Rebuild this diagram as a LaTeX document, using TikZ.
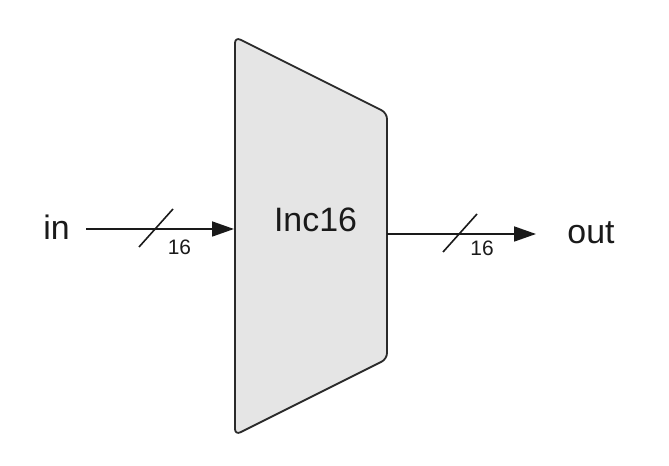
\documentclass[tikz,border=0pt]{standalone}
\usepackage{fontspec}
\setmainfont{Liberation Sans}
\usetikzlibrary{arrows.meta}
\definecolor{linecol}{HTML}{1A1A1A}
\definecolor{boxfill}{HTML}{E5E5E5}
\definecolor{boxline}{HTML}{2A2A2A}
\begin{document}
\begin{tikzpicture}[x=1bp,y=-1bp,
  biglabel/.style={inner sep=0pt,anchor=base,text=linecol,font=\fontsize{34}{40}\selectfont},
  buslabel/.style={inner sep=0pt,anchor=base,text=linecol,font=\fontsize{21}{25}\selectfont},
  wire/.style={draw=linecol,line width=1.8bp,-{Triangle[length=22bp,width=15bp]}},
  slash/.style={draw=linecol,line width=1.6bp},
  block/.style={draw=boxline,fill=boxfill,line width=1.8bp,rounded corners=6bp}]
\useasboundingbox (0,0) rectangle (669,466);
% block
\path[block] (235,37) -- (387,113) -- (387,359) -- (235,435) -- cycle;
\node[biglabel] (inc) at (315.5,232) {Inc16};
% terminals
\node[biglabel] (inlbl) at (56.5,240) {in};
\node[biglabel] (outlbl) at (591,244) {out};
\coordinate (inA) at (86,229);
\coordinate (inB) at (234,229);
\coordinate (outA) at (387,234);
\coordinate (outB) at (536,234);
\draw[wire] (inA) -- (inB);
\draw[wire] (outA) -- (outB);
% bus slashes
\coordinate (s1a) at (139,247);
\coordinate (s1b) at (173,209);
\coordinate (s2a) at (443,252);
\coordinate (s2b) at (477,214);
\draw[slash] (s1a) -- (s1b);
\draw[slash] (s2a) -- (s2b);
\node[buslabel] (w1) at (179.5,255) {16};
\node[buslabel] (w2) at (482,256) {16};
\end{tikzpicture}
\end{document}
